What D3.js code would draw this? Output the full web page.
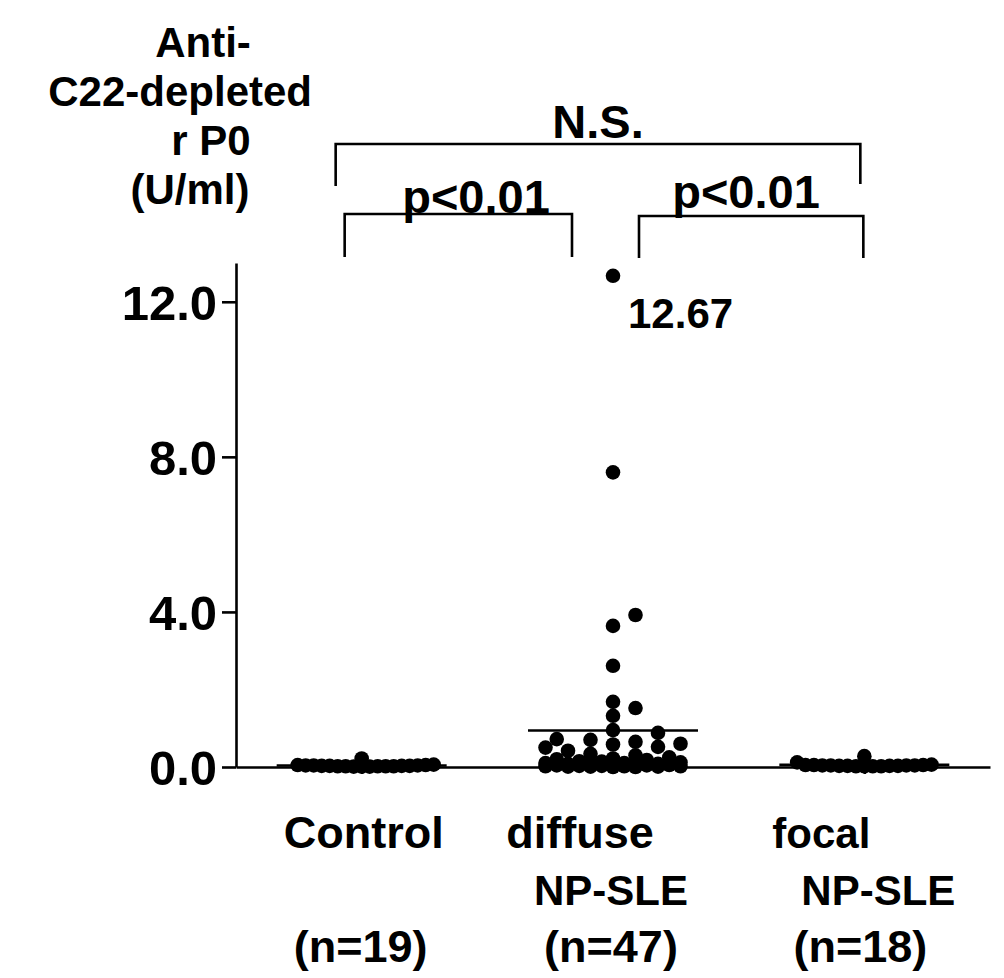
<!DOCTYPE html>
<html>
<head>
<meta charset="utf-8">
<script src="https://cdn.jsdelivr.net/npm/d3@7"></script>
<style>
  body { margin: 0; background: #fff; }
  svg text { font-family: "Liberation Sans", Arial, sans-serif; font-weight: bold; fill: #000; }
</style>
</head>
<body>
<svg id="chart" width="1004" height="978"></svg>
<script>
// Scatter of anti-C22-depleted rP0 per group, with mean bars and significance brackets.

const groups = ['Control', 'diffuse NP-SLE', 'focal NP-SLE'];
const groupLabelLines = [['Control'], ['diffuse', 'NP-SLE'], ['focal', 'NP-SLE']];
const groupCounts = ['(n=19)', '(n=47)', '(n=18)'];

const controlValues = [0.01, 0.02, 0.04, 0.03, 0.22, 0.05, 0.02, 0.03, 0.01, 0.04,
  0.02, 0.03, 0.05, 0.02, 0.01, 0.03, 0.04, 0.02, 0.06];
const diffuseValues = [12.67, 7.6, 3.92, 3.64, 2.61, 1.68, 1.52, 1.32, 0.95, 0.88,
  0.72, 0.70, 0.65, 0.60, 0.58, 0.52, 0.50, 0.42, 0.34, 0.30,
  0.25, 0.22, 0.20, 0.18, 0.15, 0.14, 0.12, 0.10, 0.10, 0.08,
  0.08, 0.07, 0.06, 0.05, 0.05, 0.04, 0.04, 0.03, 0.03, 0.02,
  0.02, 0.02, 0.01, 0.01, 0.01, 0.00, 0.00];
const focalValues = [0.02, 0.03, 0.05, 0.02, 0.04, 0.12, 0.03, 0.06, 0.02, 0.04,
  0.03, 0.05, 0.28, 0.04, 0.02, 0.03, 0.05, 0.04];

const yTicks = [0, 4, 8, 12];
const yTitleLines = ['Anti-', 'C22-depleted', 'r P0', '(U/ml)'];

// brackets: group index a -> b, label
const comparisons = [
  { a: 0, b: 2, label: 'N.S.' },
  { a: 0, b: 1, label: 'p<0.01' },
  { a: 1, b: 2, label: 'p<0.01' }
];
const highlight = { group: 1, value: 12.67, text: '12.67' };

// ---- layout ----
const svg = d3.select('#chart');
const plotLeft = 236, plotRight = 990, plotTop = 263, plotBottom = 767;

const x = d3.scalePoint().domain(groups).range([plotLeft, plotRight]).padding(0.5);
const y = d3.scaleLinear().domain([0, 13]).range([plotBottom, plotTop]);

const strokeW = 2.6;
const dotR = 7.3;
const meanHalf = 85;

// Prism-like column scatter: place each point in the nearest free slot
function swarm(values, opt) {
  const dir = opt.ascending ? 1 : -1;
  const order = values.map((v, i) => i).sort((i, j) => dir * (values[i] - values[j]));
  const placed = [];
  const out = new Array(values.length);
  const slots = [0];
  for (let k = 1; k <= opt.maxK; k++) slots.push(k, -k);
  const halfSlots = d3.range(-2 * opt.maxK, 2 * opt.maxK + 1).map(k => k / 2);
  order.forEach(i => {
    const py = y(values[i]);
    const hits = s => placed.some(p => Math.abs(p.dx - s * opt.step) < opt.step * 0.99 && Math.abs(p.py - py) < opt.h);
    let slot = slots.find(s => !hits(s));
    if (slot === undefined) {
      // everything taken: go where it overlaps the least
      let best = -1;
      halfSlots.forEach(s => {
        const d = d3.min(placed, p => Math.hypot(p.dx - s * opt.step, p.py - py));
        if (d > best + 1e-6 || (Math.abs(d - best) < 1e-6 && Math.abs(s) < Math.abs(slot))) { best = d; slot = s; }
      });
    }
    const dx = slot * opt.step;
    placed.push({ dx, py });
    out[i] = { value: values[i], dx, py };
  });
  return out;
}

const groupData = [
  { name: groups[0], values: controlValues, opt: { step: 8, h: 8, maxK: 9, ascending: true } },
  { name: groups[1], values: diffuseValues, opt: { step: 22.5, h: 12, maxK: 3, ascending: true } },
  { name: groups[2], values: focalValues, opt: { step: 8.4, h: 8, maxK: 9, ascending: true } }
];

// axes
const yAxis = d3.axisLeft(y).tickValues(yTicks).tickFormat(d3.format('.1f'))
  .tickSize(14).tickSizeOuter(0).tickPadding(5);
const yG = svg.append('g').attr('transform', `translate(${plotLeft},0)`).call(yAxis);
yG.selectAll('text').attr('font-size', 49).attr('dy', '0.36em');

const xAxis = d3.axisBottom(x).tickSize(7).tickSizeOuter(0).tickFormat('');
const xG = svg.append('g').attr('transform', `translate(0,${plotBottom})`).call(xAxis);

[yG, xG].forEach(g => {
  g.select('.domain').attr('stroke', '#000').attr('stroke-width', strokeW);
  g.selectAll('.tick line').attr('stroke', '#000').attr('stroke-width', strokeW);
});

// mean bars
svg.append('g').selectAll('line')
  .data(groupData)
  .join('line')
  .attr('x1', d => x(d.name) - meanHalf)
  .attr('x2', d => x(d.name) + meanHalf)
  .attr('y1', d => y(d3.mean(d.values)))
  .attr('y2', d => y(d3.mean(d.values)))
  .attr('stroke', '#000')
  .attr('stroke-width', strokeW);

// dots
groupData.forEach(g => {
  const pts = swarm(g.values, g.opt);
  svg.append('g').selectAll('circle')
    .data(pts)
    .join('circle')
    .attr('cx', d => x(g.name) + d.dx)
    .attr('cy', d => d.py)
    .attr('r', dotR)
    .attr('fill', '#000');
});

// highlight label for the top value
svg.append('text')
  .attr('x', x(groups[highlight.group]) + 15)
  .attr('y', y(highlight.value) + 52)
  .attr('font-size', 42)
  .text(highlight.text);

// y title, one text per line
const titlePos = [
  { x: 203, anchor: 'middle' },
  { x: 312, anchor: 'end' },
  { x: 211, anchor: 'middle' },
  { x: 190, anchor: 'middle' }
];
svg.append('g').selectAll('text')
  .data(yTitleLines)
  .join('text')
  .attr('x', (d, i) => titlePos[i].x)
  .attr('y', (d, i) => 57 + i * 49)
  .attr('text-anchor', (d, i) => titlePos[i].anchor)
  .attr('font-size', 42)
  .text(d => d);

// category labels
const labelDx = [[2], [-33, -2], [-43, 14]];
const countDx = [-1, -2, -4];
groupLabelLines.forEach((lines, gi) => {
  lines.forEach((t, li) => {
    svg.append('text')
      .attr('x', x(groups[gi]) + labelDx[gi][li])
      .attr('y', 848 + li * 57)
      .attr('text-anchor', 'middle')
      .attr('font-size', li === 0 && gi < 2 ? 45 : 42)
      .text(t);
  });
  svg.append('text')
    .attr('x', x(groups[gi]) + countDx[gi])
    .attr('y', 962)
    .attr('text-anchor', 'middle')
    .attr('font-size', 45)
    .text(groupCounts[gi]);
});

// significance brackets (drawn above the plot)
const bracketGeom = [
  { x1: -26, x2: -4, top: 144, legL: 186, legR: 184, tx: 598, ty: 138 },
  { x1: -17, x2: -41, top: 214, legL: 257, legR: 257, tx: 476, ty: 213 },
  { x1: 26, x2: -1, top: 216, legL: 258, legR: 258, tx: 746, ty: 208 }
];
comparisons.forEach((c, i) => {
  const b = bracketGeom[i];
  const xa = x(groups[c.a]) + b.x1;
  const xb = x(groups[c.b]) + b.x2;
  svg.append('path')
    .attr('d', `M${xa},${b.legL}V${b.top}H${xb}V${b.legR}`)
    .attr('fill', 'none')
    .attr('stroke', '#000')
    .attr('stroke-width', strokeW);
  svg.append('text')
    .attr('x', b.tx)
    .attr('y', b.ty)
    .attr('text-anchor', 'middle')
    .attr('font-size', 47)
    .text(c.label);
});
</script>
</body>
</html>
